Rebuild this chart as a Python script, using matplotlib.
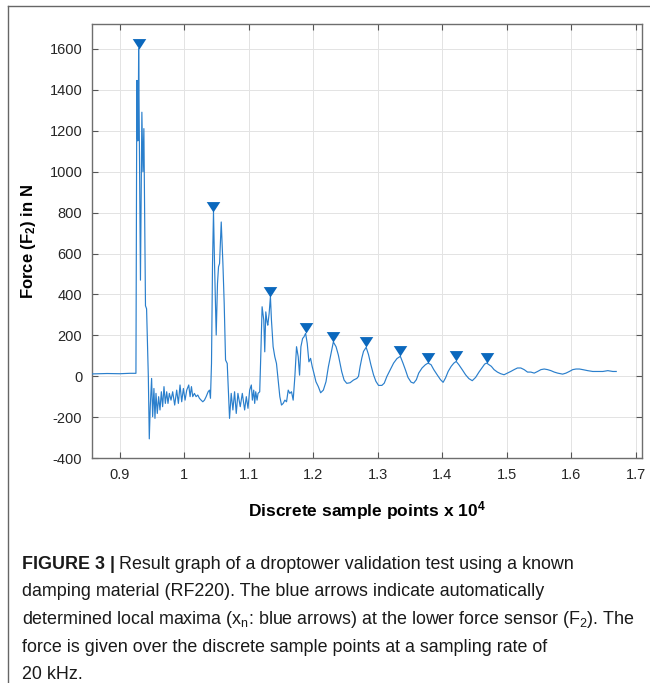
import numpy as np
import matplotlib
matplotlib.use("Agg")
import matplotlib.pyplot as plt
from matplotlib.path import Path
from matplotlib.lines import Line2D
from matplotlib.ticker import FuncFormatter

plt.rcParams['font.family'] = ['Liberation Sans', 'DejaVu Sans']
plt.rcParams['mathtext.fontset'] = 'custom'
plt.rcParams['mathtext.rm'] = 'Liberation Sans'
plt.rcParams['mathtext.bf'] = 'Liberation Sans:bold'
plt.rcParams['mathtext.it'] = 'Liberation Sans:italic'
plt.rcParams['axes.unicode_minus'] = False

# force signal at the lower sensor (sample index, N)
sample_pts = [
    8560, 8800, 9000, 9150, 9248,
    9262, 9265, 9268, 9271, 9274, 9277, 9280, 9283, 9290, 9318, 9340, 9356,
    9371, 9396, 9413, 9440, 9455,
    9470, 9491, 9507, 9527, 9543, 9559, 9579, 9600, 9621, 9642, 9662, 9683,
    9704, 9725, 9745, 9766, 9792, 9818, 9849, 9880, 9906, 9932, 9958, 9984,
    10010, 10036, 10067, 10088, 10109, 10129, 10155, 10181, 10207, 10233,
    10259, 10285, 10311, 10337, 10368, 10389, 10404,
    10420, 10436, 10451, 10467, 10493, 10513, 10529, 10545, 10571, 10597,
    10617, 10638, 10664, 10700,
    10726, 10752, 10778, 10804, 10830, 10866, 10898, 10934, 10960, 10986,
    11012, 11038, 11054, 11075, 11090, 11106, 11127, 11142, 11168,
    11184, 11205, 11231, 11246, 11262, 11282, 11293, 11314, 11334, 11350,
    11376, 11402, 11428, 11454, 11480, 11506, 11532, 11558, 11584, 11610,
    11635, 11661, 11687, 11713, 11739, 11765, 11786, 11807, 11833, 11854,
    11880, 11905, 11931, 11957, 11983, 12009, 12040, 12077, 12113, 12155,
    12196, 12233, 12274, 12310, 12352, 12388, 12414, 12440, 12477, 12518,
    12570, 12622, 12674, 12700, 12726, 12752, 12778, 12819, 12856, 12892,
    12933, 12970, 13011, 13063, 13100, 13141, 13193, 13245, 13297, 13349,
    13390, 13427, 13468, 13515, 13556, 13598, 13634, 13686, 13738, 13780,
    13826, 13868, 13920, 13972, 14013, 14050, 14091, 14138, 14180, 14216,
    14257, 14309, 14361, 14413, 14465, 14517, 14569, 14621, 14657, 14688,
    14725, 14761, 14803, 14855, 14906, 14958, 15010, 15062, 15114, 15166,
    15218, 15270, 15322, 15374, 15426, 15478, 15530, 15581, 15633, 15685,
    15737, 15789, 15867, 15919, 15971, 16023, 16075, 16127, 16179, 16256,
    16334, 16412, 16490, 16568, 16646, 16698,
]
force_vals = [
    12, 14, 13, 15, 15,
    1445, 1165, 1440, 1160, 1445, 1150, 1430, 1160, 1600, 470, 1290, 1000,
    1210, 345, 330, 0, -305,
    -148, -10, -197, -59, -205, -83, -181, -99, -164, -75, -148, -50,
    -132, -75, -132, -83, -116, -75, -140, -67, -132, -42, -124, -59,
    -116, -67, -42, -99, -50, -99, -83, -99, -91, -107,
    -116, -124, -116, -99, -75, -67, -107,
    63, 551, 805, 551, 202, 454, 535, 551, 754, 551,
    356, 80, 63, -205,
    -83, -164, -75, -181, -83, -148, -83, -164, -99, -156,
    -67, -42, -116, -67, -132, -75, -116, -83, -75,
    96, 340, 275, 120, 315, 266, 250, 307, 390, 275,
    145, 96, 63, -18, -99, -140, -132, -116, -124, -67,
    -83, -75, -116, -2, 145, 96, 6, 145, 185, 193,
    210, 161, 71, 88, 47, 15, -26, -50, -80, -67,
    -26, 47, 112, 168, 145, 104, 63, 23, -18, -34,
    -31, -18, -10, 0, 49, 90, 122, 142, 106, 57,
    8, -24, -44, -44, -33, 0, 33, 65, 87, 98,
    65, 33, -5, -28, -33, -16, 16, 41, 57, 65,
    57, 33, 8, -16, -29, -8, 24, 49, 65, 73,
    57, 33, 8, -11, -21, -5, 21, 44, 60, 65,
    57, 49, 33, 21, 13, 8, 16, 24, 33, 41,
    41, 33, 21, 21, 16, 24, 33, 36, 33, 28,
    21, 16, 11, 16, 24, 33, 36, 36, 33, 28,
    24, 24, 24, 28, 24, 24,
]

# automatically found local maxima (x_n)
peak_pts = [9290, 10451, 11334, 11880, 12310, 12819, 13349, 13780, 14216, 14688]
peak_vals = [1600, 805, 390, 210, 168, 142, 98, 65, 73, 65]

y_ticks = [-400, -200, 0, 200, 400, 600, 800, 1000, 1200, 1400, 1600]
x_ticks = [0.9, 1.0, 1.1, 1.2, 1.3, 1.4, 1.5, 1.6, 1.7]

caption_lines = [
    "Result graph of a droptower validation test using a known",
    "damping material (RF220). The blue arrows indicate automatically",
    r"determined local maxima (x$_\mathrm{n}$: blue arrows) at the lower force sensor (F$_\mathrm{2}$). The",
    "force is given over the discrete sample points at a sampling rate of",
    "20 kHz.",
]

line_blue = '#2a7fcc'
mark_blue = '#0b68bd'

fig = plt.figure(figsize=(6.5, 6.83), dpi=100)
ax = fig.add_axes([0.1415, 0.329, 0.8462, 0.6356])

x = np.array(sample_pts) / 1e4
ax.plot(x, force_vals, color=line_blue, lw=0.85, zorder=3)

# downward triangle whose tip sits on the peak
tri = Path([(0, 0), (-0.65, 1), (0.65, 1), (0, 0)],
           [Path.MOVETO, Path.LINETO, Path.LINETO, Path.CLOSEPOLY])
ax.plot(np.array(peak_pts) / 1e4, peak_vals, linestyle='none', marker=tri,
        markersize=15, color=mark_blue, markeredgewidth=0, zorder=4)

ax.set_xlim(0.8566, 1.7098)
ax.set_ylim(-400, 1720)
ax.set_xticks(x_ticks)
ax.set_yticks(y_ticks)
ax.xaxis.set_major_formatter(FuncFormatter(lambda v, p: '%g' % round(v, 2)))
ax.tick_params(direction='in', length=4, width=0.8, color='#555555',
               top=True, right=True, labelsize=10.5, labelcolor='#262626', pad=7)
ax.grid(True, color='#e3e3e3', lw=0.7)
ax.set_axisbelow(True)
for s in ax.spines.values():
    s.set_color('#6e6e6e')
    s.set_linewidth(1.0)

ax.set_ylabel(r'Force (F$_\mathbf{2}$) in N', fontsize=12, fontweight='bold', labelpad=8)
ax.set_xlabel(r'Discrete sample points x 10$^\mathbf{4}$', fontsize=12.5,
              fontweight='bold', labelpad=12)

# panel frame (top and left edges)
fig.add_artist(Line2D([8 / 650, 1.0], [1 - 6 / 683, 1 - 6 / 683], color='#666666', lw=1.0))
fig.add_artist(Line2D([8 / 650, 8 / 650], [0.0, 1 - 6 / 683], color='#666666', lw=1.0))

# caption
cap_size = 12.9
y0 = 1 - 569 / 683
t = fig.text(22 / 650, y0, "FIGURE 3 |", fontsize=cap_size, fontweight='bold',
             color='#1a1a1a', va='baseline')
fig.canvas.draw()
bb = t.get_window_extent()
fig.text(bb.x1 / 650 + 4 / 650, y0, caption_lines[0], fontsize=cap_size,
         color='#1a1a1a', va='baseline')
for i, line in enumerate(caption_lines[1:]):
    fig.text(22 / 650, y0 - (i + 1) * 27.5 / 683, line, fontsize=cap_size,
             color='#1a1a1a', va='baseline')

fig.savefig('out.png', dpi=100)
